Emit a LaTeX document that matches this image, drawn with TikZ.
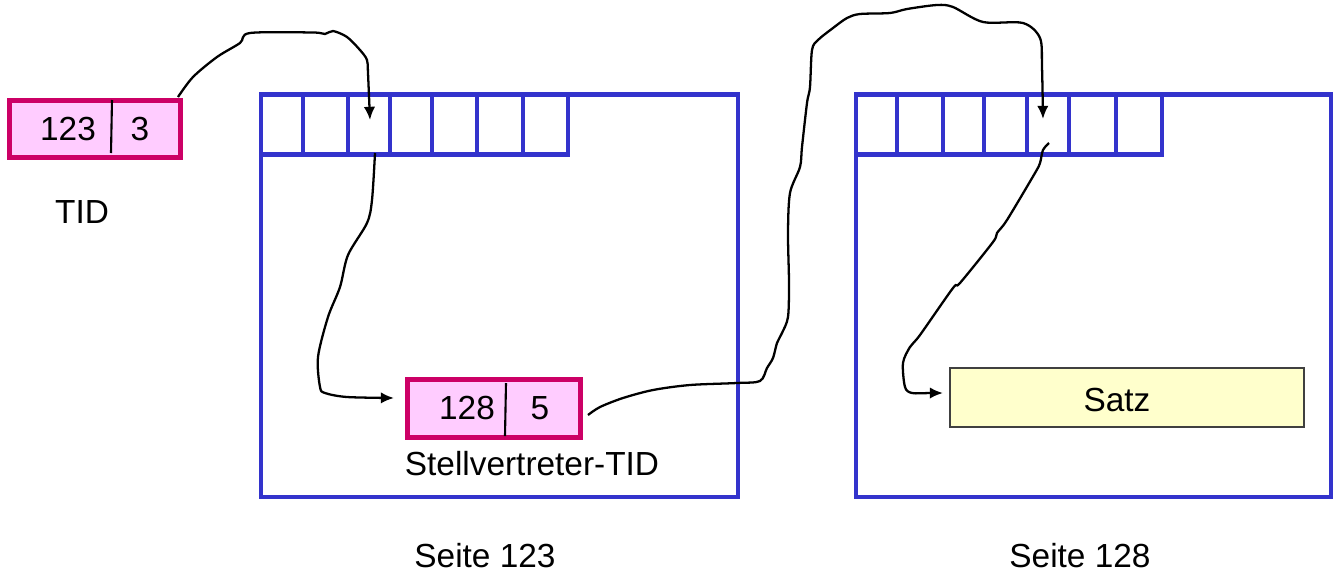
\documentclass[tikz,border=0pt]{standalone}
\usepackage{fontspec}
\setmainfont{Liberation Sans}
\usetikzlibrary{arrows.meta}
\definecolor{pblue}{HTML}{3333CC}
\definecolor{tidred}{HTML}{CC0066}
\definecolor{tidpink}{HTML}{FFCCFF}
\definecolor{satzfill}{HTML}{FFFFCC}
\begin{document}
\begin{tikzpicture}[x=0.02cm,y=-0.02cm,
  page/.style={draw=pblue,line width=2.7pt,line cap=rect},
  tidbox/.style={draw=tidred,fill=tidpink,line width=2.8pt,inner sep=0pt},
  divline/.style={line width=1.2pt},
  conn/.style={line width=1.3pt,-{Latex[length=7.5pt,width=6.5pt]}},
  lbl/.style={font=\fontsize{19}{22}\selectfont,inner sep=0pt}]
\useasboundingbox (0,0) rectangle (1333,576);

% Page 123
\draw[page] (261,94.5) rectangle (738,497);
\draw[page] (261,154.5) -- (568,154.5);
\foreach \x in {303,348,390,432,477,523,568} \draw[page] (\x,94.5) -- (\x,154.5);
% Page 128
\draw[page] (856,94.5) rectangle (1331,497);
\draw[page] (856,154.5) -- (1162,154.5);
\foreach \x in {897,943,984,1027,1069,1116,1162} \draw[page] (\x,94.5) -- (\x,154.5);

% TID
\node[tidbox,minimum width=171*0.02cm,minimum height=57*0.02cm] (tid) at (95,129) {};
\draw[divline] (112,100) -- (111,153);
\node[lbl] (tida) at (68,129) {123};
\node[lbl] (tidb) at (140,129) {3};
\node[lbl] (tidlbl) at (82,212) {TID};

% Stellvertreter-TID
\node[tidbox,minimum width=173*0.02cm,minimum height=58*0.02cm] (stv) at (494,408.5) {};
\draw[divline] (506,383) -- (505,436);
\node[lbl] (stva) at (467,408) {128};
\node[lbl] (stvb) at (540,408) {5};
\node[lbl] (stvlbl) at (532,464) {Stellvertreter-TID};

% Satz
\node[draw=black!75,fill=satzfill,line width=0.6pt,minimum width=354*0.02cm,minimum height=59*0.02cm,inner sep=0pt] (satz) at (1127,397.5) {};
\node[lbl] (satzlbl) at (1117,400) {Satz};

% Page labels
\node[lbl] (s123) at (485,556) {Seite 123};
\node[lbl] (s128) at (1080,556) {Seite 128};

% connector endpoints
\coordinate (c1s) at (178,97);
\coordinate (c1e) at (370,120);
\coordinate (c2s) at (375,153);
\coordinate (c2e) at (394,398);
\coordinate (c3s) at (588,415);
\coordinate (c3e) at (1043,119);
\coordinate (c4s) at (1049,143);
\coordinate (c4e) at (943,393);

\draw[conn] plot[smooth,tension=0.5] coordinates {(c1s) (193,77) (217,57) (240,43) (250,33) (313,32.5) (325,34) (333,31) (347,37) (360,50) (367,60) (368,73) (c1e)};
\draw[conn] plot[smooth,tension=0.5] coordinates {(c2s) (372,200) (367,223) (348,255) (340,287) (328,317) (318,357) (320,387) (325,393) (347,397) (c2e)};
\draw[conn] plot[smooth,tension=0.5] coordinates {(c3s) (600,407) (623,398) (653,390) (690,385) (737,383) (760,381) (767,368) (773,358) (777,343) (782,333) (788,317) (789,283) (788,233) (790,193) (800,167) (802,147) (807,103) (810,87) (812,50) (818,40) (833,28) (847,18) (860,14) (890,13) (907,9) (937,5) (953,7) (983,22) (1023,23) (1040,38) (1042,67) (c3e)};
\draw[conn] plot[smooth,tension=0.5] coordinates {(c4s) (1043,150) (1040,163) (1035,173) (1007,220) (997,233) (993,242) (960,283) (953,288) (920,335) (910,347) (903,363) (905,387) (912,393) (930,393) (c4e)};
\end{tikzpicture}
\end{document}
